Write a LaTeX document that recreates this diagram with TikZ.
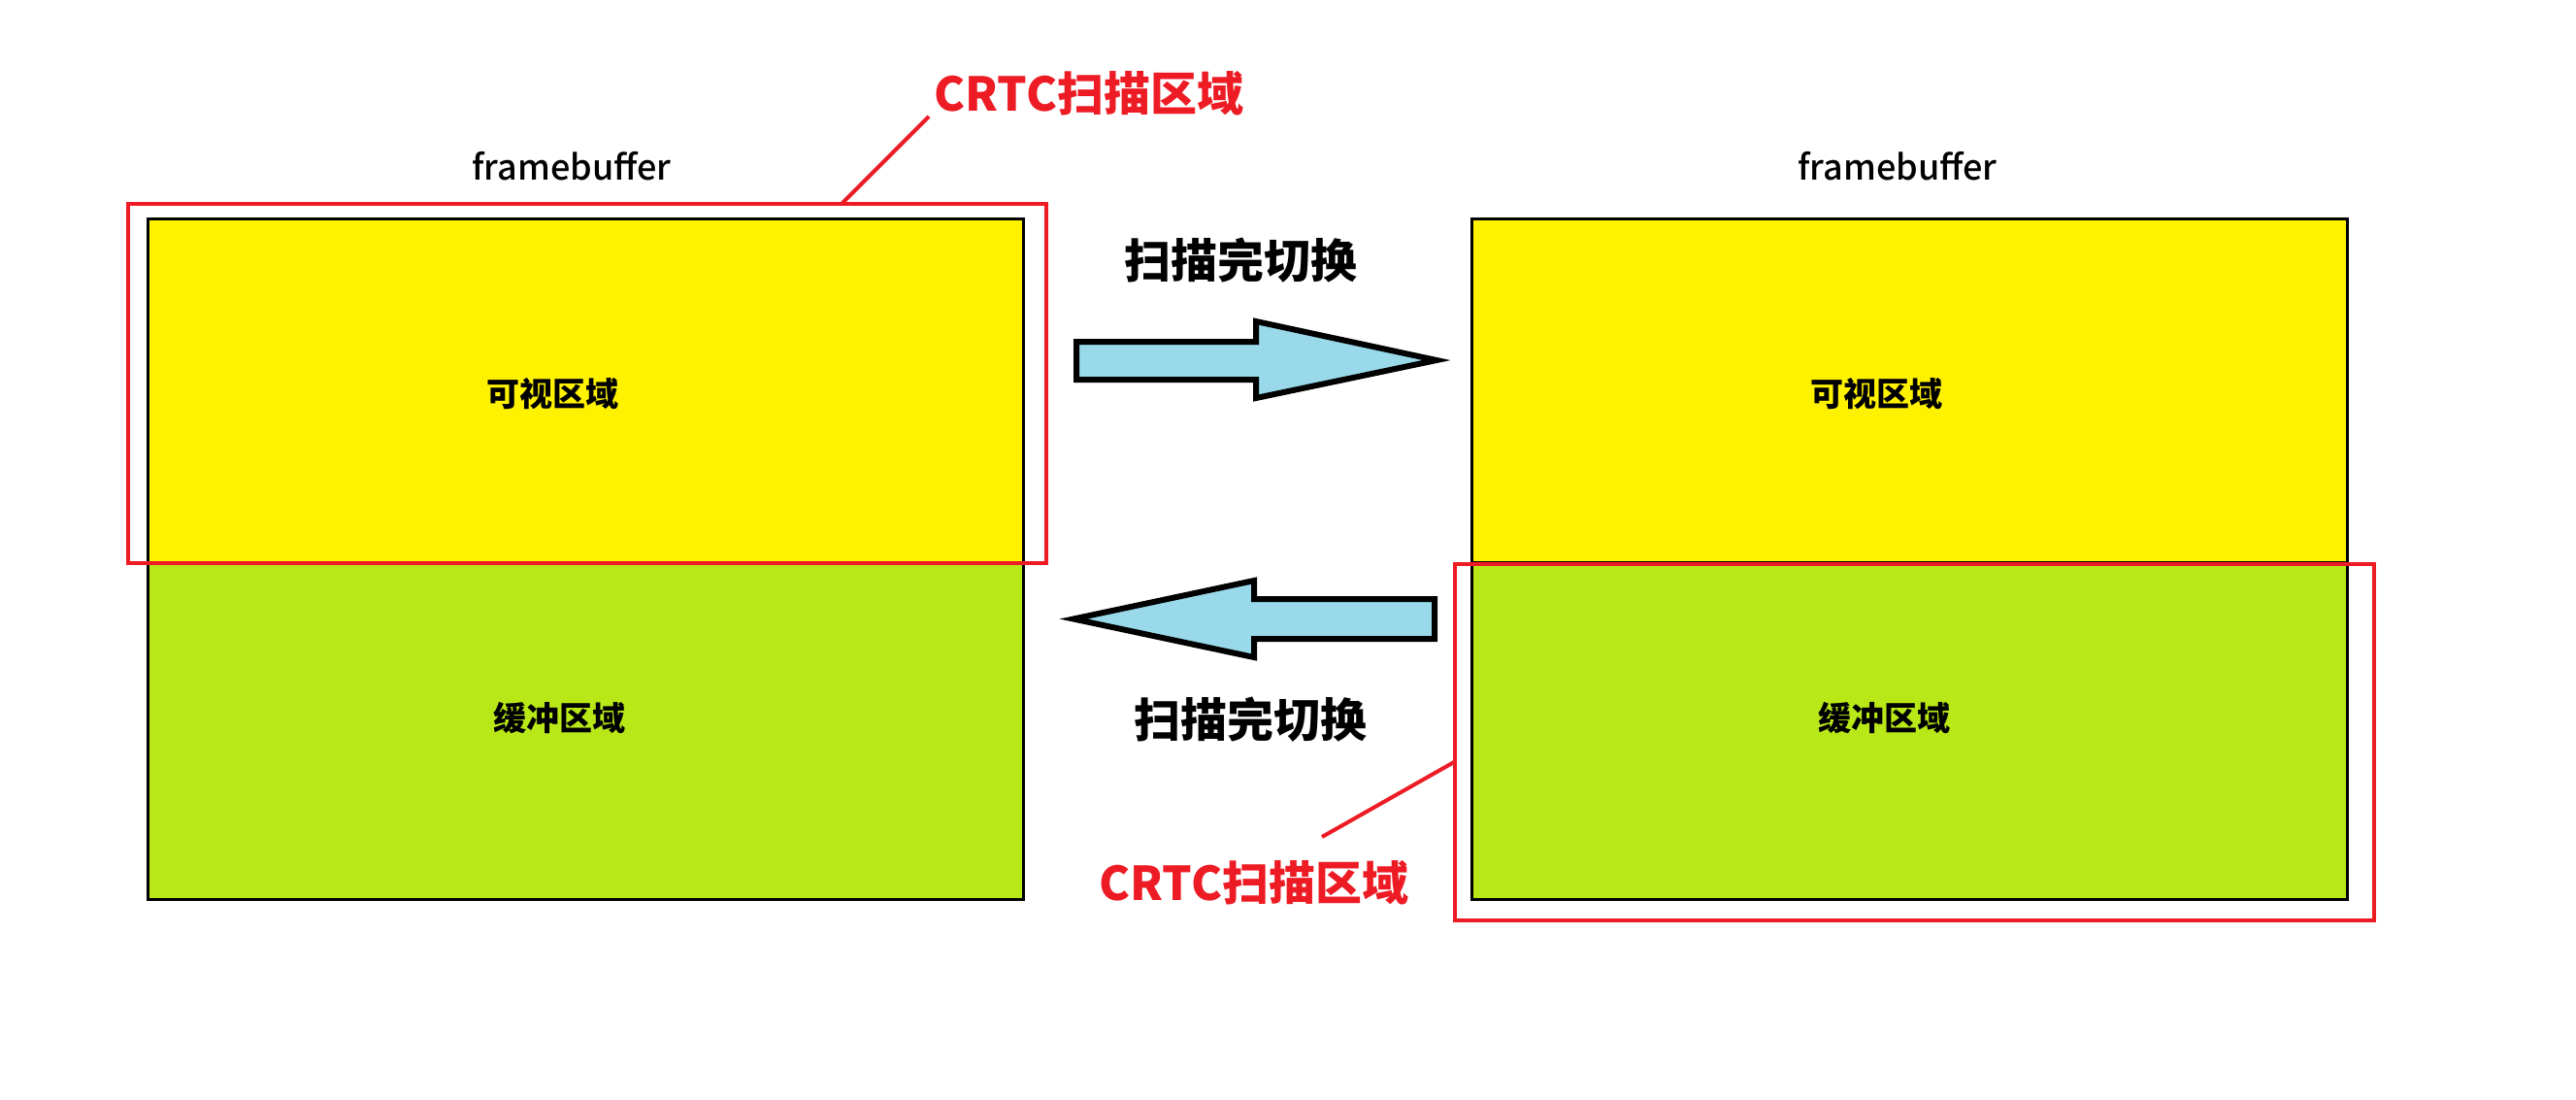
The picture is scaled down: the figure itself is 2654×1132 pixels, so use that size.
\documentclass[tikz,border=0pt]{standalone}
\usepackage{fontspec}
\setmainfont{Noto Sans CJK SC}
\newfontfamily\fbfont{Noto Sans CJK SC Medium}
\definecolor{fbyellow}{RGB}{255,242,0}
\definecolor{fbgreen}{RGB}{184,232,23}
\definecolor{arrblue}{RGB}{153,217,234}
\definecolor{crtcred}{RGB}{237,28,36}
\begin{document}
\begin{tikzpicture}[x=0.5pt,y=-0.5pt,
  region/.style={draw=black, line width=1.5pt, inner sep=0pt, outer sep=0pt, anchor=north west, minimum width=451pt},
  visible/.style={region, fill=fbyellow, minimum height=177pt},
  buffer/.style={region, fill=fbgreen, minimum height=173.5pt},
  scanbox/.style={draw=crtcred, line width=2pt, inner sep=0pt, outer sep=0pt, anchor=north west},
  regionlabel/.style={font=\bfseries\fontsize{17}{20}\selectfont, text=black},
  fblabel/.style={font=\fbfont\fontsize{18}{22}\selectfont, text=black},
  crtclabel/.style={font=\bfseries\fontsize{24}{28}\selectfont, text=crtcred},
  switchlabel/.style={font=\bfseries\fontsize{24}{28}\selectfont, text=black},
  bigarrow/.style={draw=black, fill=arrblue, line width=3pt, line join=miter},
  leader/.style={draw=crtcred, line width=2pt}
]
\useasboundingbox[fill=white] (0,0) rectangle (2654,1132);

% left framebuffer
\node[visible] (lvis) at (152,225) {};
\node[buffer] (lbuf) at (152,579) {};
\node[regionlabel] (lvist) at (569,406) {可视区域};
\node[regionlabel] (lbuft) at (576,740) {缓冲区域};
\node[fblabel] (lfb) at (589,171) {framebuffer};

% right framebuffer
\node[visible] (rvis) at (1516,225) {};
\node[buffer] (rbuf) at (1516,579) {};
\node[regionlabel] (rvist) at (1933,406) {可视区域};
\node[regionlabel] (rbuft) at (1941,740) {缓冲区域};
\node[fblabel] (rfb) at (1955,171) {framebuffer};

% CRTC scan boxes
\node[scanbox, minimum width=473pt, minimum height=185pt] (lscan) at (132,210) {};
\node[scanbox, minimum width=473.5pt, minimum height=183.5pt] (rscan) at (1499,581) {};

% CRTC labels and leaders
\node[crtclabel] (lcrtc) at (1122,96) {CRTC扫描区域};
\node[crtclabel] (rcrtc) at (1292,909) {CRTC扫描区域};
\coordinate (lleadA) at (957,120);
\coordinate (lleadB) at (868,209);
\coordinate (rleadA) at (1362,862);
\coordinate (rleadB) at (1498,785);
\draw[leader] (lleadA) -- (lleadB);
\draw[leader] (rleadA) -- (rleadB);

% switch arrows
\draw[bigarrow] (1109,352) -- (1294,352) -- (1294,331) -- (1480,371) -- (1294,410) -- (1294,391) -- (1109,391) -- cycle;
\draw[bigarrow] (1478,617) -- (1292,617) -- (1292,598) -- (1106,637.5) -- (1292,677) -- (1292,658) -- (1478,658) -- cycle;
\node[switchlabel] (topsw) at (1278,268) {扫描完切换};
\node[switchlabel] (botsw) at (1288,741) {扫描完切换};
\end{tikzpicture}
\end{document}
